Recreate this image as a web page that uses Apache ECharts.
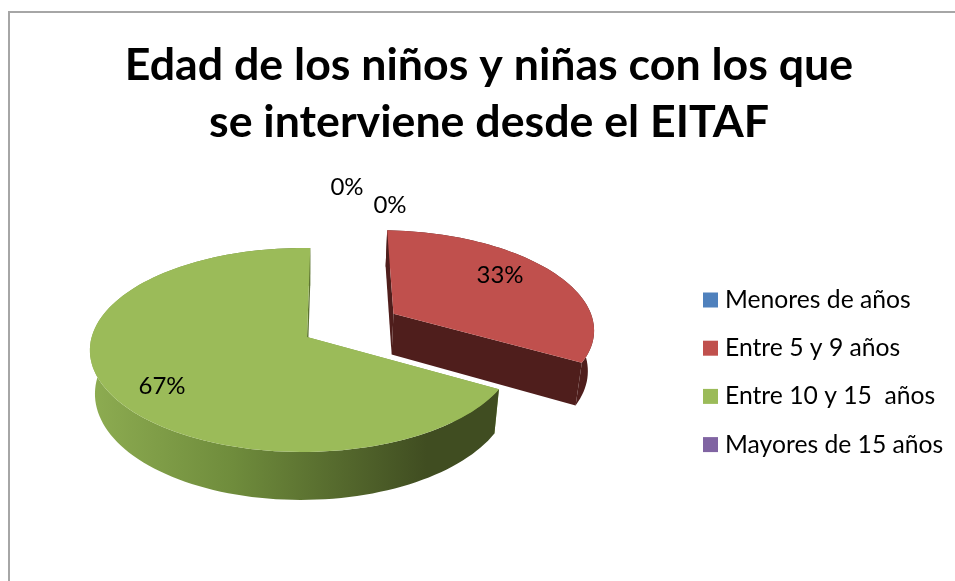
<!DOCTYPE html>
<html>
<head>
<meta charset="utf-8">
<style>
  html, body { margin: 0; padding: 0; background: #fff; }
  #chart { width: 955px; height: 581px; }
</style>
</head>
<body>
<div id="chart"></div>
<script src="https://cdn.jsdelivr.net/npm/echarts@6/dist/echarts.min.js"></script>
<script>
const titleLines = ["Edad de los niños y niñas con los que", "se interviene desde el EITAF"];
const categories = ["Menores de años", "Entre 5 y 9 años", "Entre 10 y 15  años", "Mayores de 15 años"];
const percents = [0, 33, 67, 0];
const topColors = ["#4f81bd", "#c0504d", "#9bbb59", "#8064a2"];

const FONT = "Lato, 'Open Sans', sans-serif";
// tilted disc: screen position of the disc centre, radii and perspective
const CX = 307, CY = 337, AX = 211, AY = 100.3, KEYSTONE = 0.1275, SIDE_KEYSTONE = 0.02;
const DEPTH = 43.4, DEPTH_TILT = 0.05, SHRINK = 0.023;
const START_ANGLE = 1;
const EXPLODED = 1, EXPLODE_BY = 0.49;
const LABEL_AT = [[390, 205], [500, 275], [162, 386], [347, 187]];
const GREEN_WALL = {
  type: "linear", x: 92, y: 0, x2: 495, y2: 0, global: true,
  colorStops: [
    {offset: 0, color: "#8dac51"},
    {offset: 0.35, color: "#6f8c3c"},
    {offset: 0.83, color: "#404d21"},
    {offset: 1, color: "#404d21"}
  ]
};
const wallColors = [null, "#4f1e1c", GREEN_WALL, null];
const startFaceColors = [null, "#4f1e1c", "#7d9c46", null];

function project(u, v, z) {
  const w = 1 / (1 - KEYSTONE * v + SIDE_KEYSTONE * u + SHRINK * z);
  return [CX + AX * u * w, CY + (AY * v + DEPTH * (1 + DEPTH_TILT * v) * z) * w];
}
function rim(from, to, offset, z) {
  const points = [];
  const steps = Math.max(2, Math.ceil((to - from) / 2));
  for (let i = 0; i <= steps; i++) {
    const a = (from + (to - from) * i / steps) * Math.PI / 180;
    points.push(project(Math.sin(a) + offset[0], -Math.cos(a) + offset[1], z));
  }
  return points;
}
function renderSlice(index, api) {
  const value = api.value(0);
  const total = percents.reduce((a, b) => a + b, 0);
  const before = percents.slice(0, index).reduce((a, b) => a + b, 0);
  const from = START_ANGLE + before / total * 360;
  const to = from + value / total * 360;
  const children = [];
  if (value > 0) {
    let offset = [0, 0];
    if (index == EXPLODED) {
      const mid = (from + to) / 2 * Math.PI / 180;
      offset = [Math.sin(mid) * EXPLODE_BY, -Math.cos(mid) * EXPLODE_BY];
    }
    const apexTop = project(offset[0], offset[1], 0);
    const apexBottom = project(offset[0], offset[1], 1);
    const top = rim(from, to, offset, 0);
    const bottom = rim(from, to, offset, 1);
    const polygon = (points, fill) => ({type: "polygon", shape: {points}, style: {fill}});
    children.push(polygon([apexTop, top[0], bottom[0], apexBottom], startFaceColors[index]));
    children.push(polygon([apexTop, top[top.length - 1], bottom[bottom.length - 1], apexBottom], wallColors[index]));
    children.push(polygon(top.concat(bottom.slice().reverse()), wallColors[index]));
    children.push(polygon([apexTop].concat(top), topColors[index]));
  }
  children.push({
    type: "text",
    x: LABEL_AT[index][0],
    y: LABEL_AT[index][1],
    style: {
      text: value + "%",
      font: "24px " + FONT,
      fill: "#000",
      textAlign: "center",
      textVerticalAlign: "middle"
    }
  });
  return {type: "group", children};
}

const chart = echarts.init(document.querySelector("#chart"), null, {renderer: "canvas"});
chart.setOption({
  animation: false,
  backgroundColor: "#fff",
  title: {
    text: titleLines.join("\n"),
    left: 484,
    top: 32,
    textAlign: "center",
    textStyle: {fontFamily: FONT, fontSize: 44.7, fontWeight: "bold", color: "#000", lineHeight: 57}
  },
  legend: {
    orient: "vertical",
    left: 698,
    top: 281,
    icon: "rect",
    itemWidth: 15,
    itemHeight: 15,
    itemGap: 20.2,
    selectedMode: false,
    data: categories,
    textStyle: {fontFamily: FONT, fontSize: 24.7, color: "#000", lineHeight: 28, padding: [0, 0, 0, 2]}
  },
  graphic: [{
    type: "rect",
    silent: true,
    z: -1,
    shape: {x: 9, y: 12, width: 1100, height: 800},
    style: {fill: "none", stroke: "#a6a6a6", lineWidth: 2}
  }],
  series: categories.map((name, index) => ({
    type: "custom",
    name,
    coordinateSystem: "none",
    silent: true,
    itemStyle: {color: topColors[index]},
    data: [[percents[index]]],
    renderItem: (params, api) => renderSlice(index, api)
  }))
});
window.addEventListener("resize", () => chart.resize());
</script>
</body>
</html>
